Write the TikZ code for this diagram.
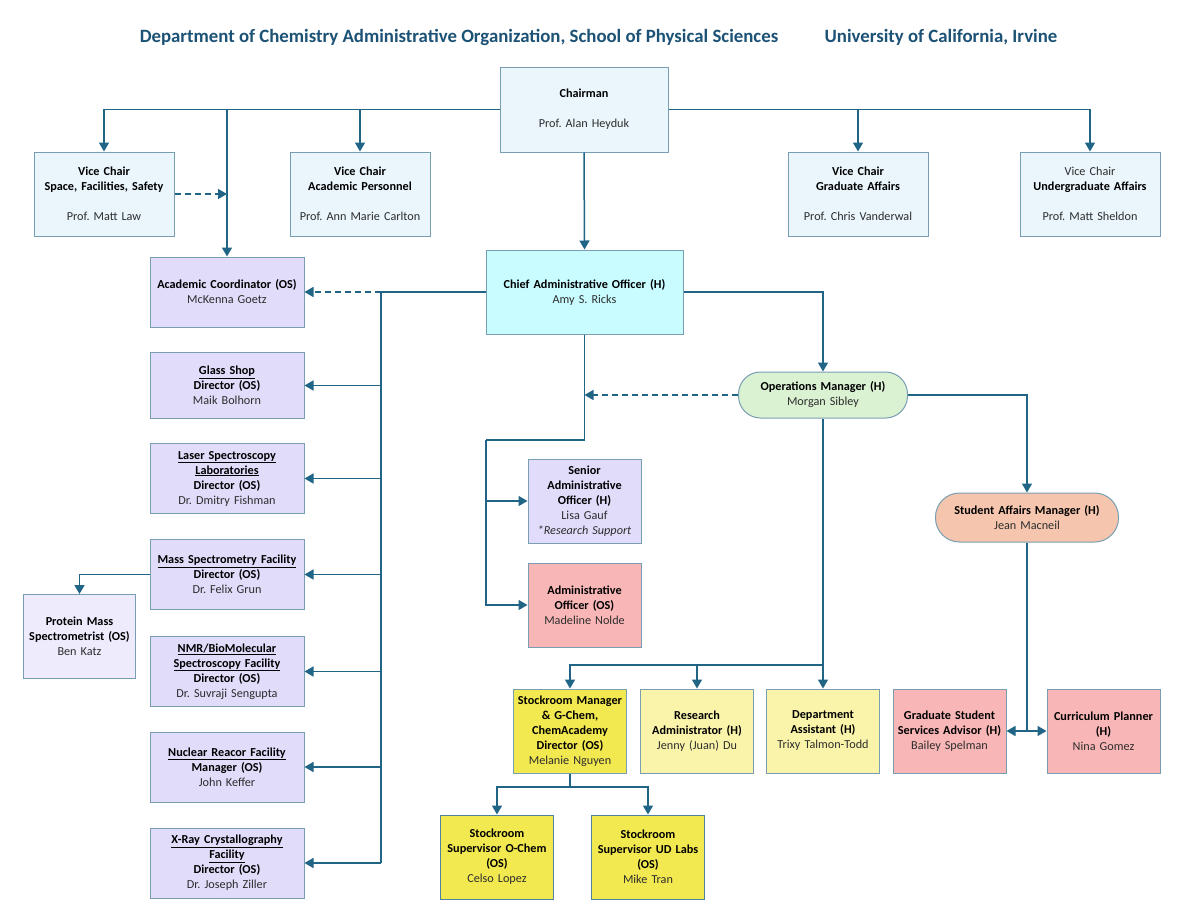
\documentclass[tikz,border=0pt]{standalone}
\usepackage{fontspec}
\setmainfont{Carlito}
\usepackage{tikz}
\usetikzlibrary{arrows.meta}
\definecolor{linkblue}{RGB}{32,100,134}
\definecolor{edgeblue}{RGB}{120,158,180}
\definecolor{titleblue}{RGB}{28,82,117}
\definecolor{vicefill}{RGB}{234,246,252}
\definecolor{caofill}{RGB}{201,252,255}
\definecolor{lavender}{RGB}{224,220,250}
\definecolor{palelavender}{RGB}{237,235,252}
\definecolor{rosefill}{RGB}{249,182,182}
\definecolor{mintfill}{RGB}{218,241,210}
\definecolor{peachfill}{RGB}{245,198,173}
\definecolor{goldfill}{RGB}{242,232,80}
\definecolor{creamfill}{RGB}{250,244,170}
\definecolor{namegray}{RGB}{45,45,45}
\frenchspacing

\begin{document}
\begin{tikzpicture}[x=1pt, y=-1pt, font=\fontsize{12.2}{15}\selectfont,
    unit/.style={rectangle, draw=edgeblue, line width=1pt, align=center, inner sep=2pt, text=namegray},
    vicebox/.style={unit, fill=vicefill, minimum width=140pt, minimum height=84pt, text width=134pt},
    labbox/.style={unit, fill=lavender, minimum width=154pt, minimum height=70pt, text width=148pt},
    cellbox/.style={unit, minimum width=113pt, minimum height=84pt, text width=109pt},
    pill/.style={unit, rounded corners=22pt, minimum height=46pt},
    titletext/.style={text=titleblue, font=\fontsize{18.8}{22}\selectfont\bfseries},
    plainlink/.style={draw=linkblue, line width=1.5pt},
    link/.style={plainlink, -{Triangle[width=10pt,length=9pt]}},
    dashlink/.style={link, dash pattern=on 6pt off 4pt}]

  \path[fill=white, use as bounding box] (0,0) rectangle (1200,916);

  % heading
  \node[titletext] (title) at (459,37) {Department of Chemistry Administrative Organization, School of Physical Sciences};
  \node[titletext] (campus) at (941,37) {University of California, Irvine};

  % chair and vice chairs
  \node[vicebox, minimum width=168pt, minimum height=85pt, text width=160pt] (chair) at (584,109.5) {\textbf{\textcolor{black}{Chairman}}\\[15pt]Prof. Alan Heyduk};
  \node[vicebox] (vc1) at (104,194) {\textbf{\textcolor{black}{Vice Chair}}\\\textbf{\textcolor{black}{Space, Facilities, Safety}}\\[15pt]Prof. Matt Law};
  \node[vicebox] (vc2) at (360,194) {\textbf{\textcolor{black}{Vice Chair}}\\\textbf{\textcolor{black}{Academic Personnel}}\\[15pt]Prof. Ann Marie Carlton};
  \node[vicebox] (vc3) at (858,194) {\textbf{\textcolor{black}{Vice Chair}}\\\textbf{\textcolor{black}{Graduate Affairs}}\\[15pt]Prof. Chris Vanderwal};
  \node[vicebox] (vc4) at (1090,194) {Vice Chair\\\textbf{\textcolor{black}{Undergraduate Affairs}}\\[15pt]Prof. Matt Sheldon};

  % chief administrative officer
  \node[vicebox, fill=caofill, minimum width=197pt, text width=190pt] (cao) at (584.5,292) {\textbf{\textcolor{black}{Chief Administrative Officer (H)}}\\Amy S. Ricks};

  % facility directors
  \node[labbox] (ac) at (227,292) {\textbf{\textcolor{black}{Academic Coordinator (OS)}}\\McKenna Goetz};
  \node[labbox, minimum height=66pt] (glass) at (227,385.5) {\textbf{\textcolor{black}{\underline{Glass Shop}}}\\\textbf{\textcolor{black}{Director (OS)}}\\Maik Bolhorn};
  \node[labbox] (laser) at (227,478.5) {\textbf{\textcolor{black}{\underline{Laser Spectroscopy}}}\\\textbf{\textcolor{black}{\underline{Laboratories}}}\\\textbf{\textcolor{black}{Director (OS)}}\\Dr. Dmitry Fishman};
  \node[labbox] (mass) at (227,574.5) {\textbf{\textcolor{black}{\underline{Mass Spectrometry Facility}}}\\\textbf{\textcolor{black}{Director (OS)}}\\Dr. Felix Grun};
  \node[labbox] (nmr) at (227,671.5) {\textbf{\textcolor{black}{\underline{NMR/BioMolecular}}}\\\textbf{\textcolor{black}{\underline{Spectroscopy Facility}}}\\\textbf{\textcolor{black}{Director (OS)}}\\Dr. Suvraji Sengupta};
  \node[labbox] (nuclear) at (227,767) {\textbf{\textcolor{black}{\underline{Nuclear Reacor Facility}}}\\\textbf{\textcolor{black}{Manager (OS)}}\\John Keffer};
  \node[labbox] (xray) at (227,863) {\textbf{\textcolor{black}{\underline{X-Ray Crystallography}}}\\\textbf{\textcolor{black}{\underline{Facility}}}\\\textbf{\textcolor{black}{Director (OS)}}\\Dr. Joseph Ziller};
  \node[cellbox, fill=palelavender, minimum width=112pt, text width=108pt] (protein) at (79.5,636.5) {\textbf{\textcolor{black}{Protein Mass}}\\\textbf{\textcolor{black}{Spectrometrist (OS)}}\\Ben Katz};

  % administrative officers
  \node[cellbox, fill=lavender] (senior) at (584.5,501) {\textbf{\textcolor{black}{Senior}}\\\textbf{\textcolor{black}{Administrative}}\\\textbf{\textcolor{black}{Officer (H)}}\\Lisa Gauf\\\textit{*Research Support}};
  \node[cellbox, fill=rosefill] (ao) at (584.5,605) {\textbf{\textcolor{black}{Administrative}}\\\textbf{\textcolor{black}{Officer (OS)}}\\Madeline Nolde};

  % managers
  \node[pill, fill=mintfill, minimum width=169pt, text width=150pt] (ops) at (823,395) {\textbf{\textcolor{black}{Operations Manager (H)}}\\Morgan Sibley};
  \node[pill, fill=peachfill, rounded corners=24pt, minimum width=183pt, minimum height=49pt, text width=165pt] (sam) at (1027,517.5) {\textbf{\textcolor{black}{Student Affairs Manager (H)}}\\Jean Macneil};

  % staff row
  \node[cellbox, fill=goldfill] (stockmgr) at (570,731) {\textbf{\textcolor{black}{Stockroom Manager}}\\\textbf{\textcolor{black}{\& G-Chem,}}\\\textbf{\textcolor{black}{ChemAcademy}}\\\textbf{\textcolor{black}{Director (OS)}}\\Melanie Nguyen};
  \node[cellbox, fill=creamfill] (research) at (697,731) {\textbf{\textcolor{black}{Research}}\\\textbf{\textcolor{black}{Administrator (H)}}\\Jenny (Juan) Du};
  \node[cellbox, fill=creamfill] (dept) at (823,731) {\textbf{\textcolor{black}{Department}}\\\textbf{\textcolor{black}{Assistant (H)}}\\Trixy Talmon-Todd};
  \node[cellbox, fill=rosefill] (grad) at (949.5,731) {\textbf{\textcolor{black}{Graduate Student}}\\\textbf{\textcolor{black}{Services Advisor (H)}}\\Bailey Spelman};
  \node[cellbox, fill=rosefill] (curr) at (1103.5,731) {\textbf{\textcolor{black}{Curriculum Planner}}\\\textbf{\textcolor{black}{(H)}}\\Nina Gomez};
  \node[cellbox, fill=goldfill, draw=linkblue!80] (ochem) at (497,857) {\textbf{\textcolor{black}{Stockroom}}\\\textbf{\textcolor{black}{Supervisor O-Chem}}\\\textbf{\textcolor{black}{(OS)}}\\Celso Lopez};
  \node[cellbox, fill=goldfill, draw=linkblue!80] (udlabs) at (648,857) {\textbf{\textcolor{black}{Stockroom}}\\\textbf{\textcolor{black}{Supervisor UD Labs}}\\\textbf{\textcolor{black}{(OS)}}\\Mike Tran};

  % chair to vice chairs
  \draw[link] (chair.west) -| (vc1.north);
  \draw[link] (chair.west) -| (vc2.north);
  \draw[link] (chair.west) -| (ac.north);
  \draw[link] (chair.east) -| (vc3.north);
  \draw[link] (chair.east) -| (vc4.north);
  \draw[link] (chair.south) -- (cao.north);
  \draw[dashlink] (vc1.east) -- (vc1.east -| ac.north);

  % CAO to facility directors
  \coordinate (spine) at (381,292);
  \draw[plainlink] (cao.west) -- (spine) -- (spine |- xray.east);
  \draw[dashlink] (spine) -- (ac.east);
  \foreach \lab in {glass,laser,mass,nmr,nuclear,xray}
    \draw[link] (spine |- \lab.east) -- (\lab.east);
  \draw[link] (mass.west) -| (protein.north);

  % CAO to administrative officers
  \coordinate (adminbus) at (486,440);
  \draw[plainlink] (cao.south) |- (adminbus);
  \draw[link] (adminbus) |- (ao.west);
  \draw[link] (adminbus |- senior.west) -- (senior.west);

  % CAO to managers
  \draw[link] (cao.east) -| (ops.north);
  \draw[dashlink] (ops.west) -- (ops.west -| cao.south);
  \draw[link] (ops.east) -| (sam.north);

  % operations to staff row
  \coordinate (opsbus) at (823,665);
  \draw[plainlink] (ops.south) -- (opsbus);
  \draw[link] (opsbus) -- (dept.north);
  \draw[link] (opsbus) -| (stockmgr.north);
  \draw[link] (research.north |- opsbus) -- (research.north);

  % stockroom supervisors
  \coordinate (stockbus) at (570,787);
  \draw[plainlink] (stockmgr.south) -- (stockbus);
  \draw[link] (stockbus) -| (ochem.north);
  \draw[link] (stockbus) -| (udlabs.north);

  % student affairs staff
  \coordinate (sambus) at (1027,731);
  \draw[plainlink] (sam.south) -- (sambus);
  \draw[link] (sambus) -- (grad.east);
  \draw[link] (sambus) -- (curr.west);
\end{tikzpicture}
\end{document}
